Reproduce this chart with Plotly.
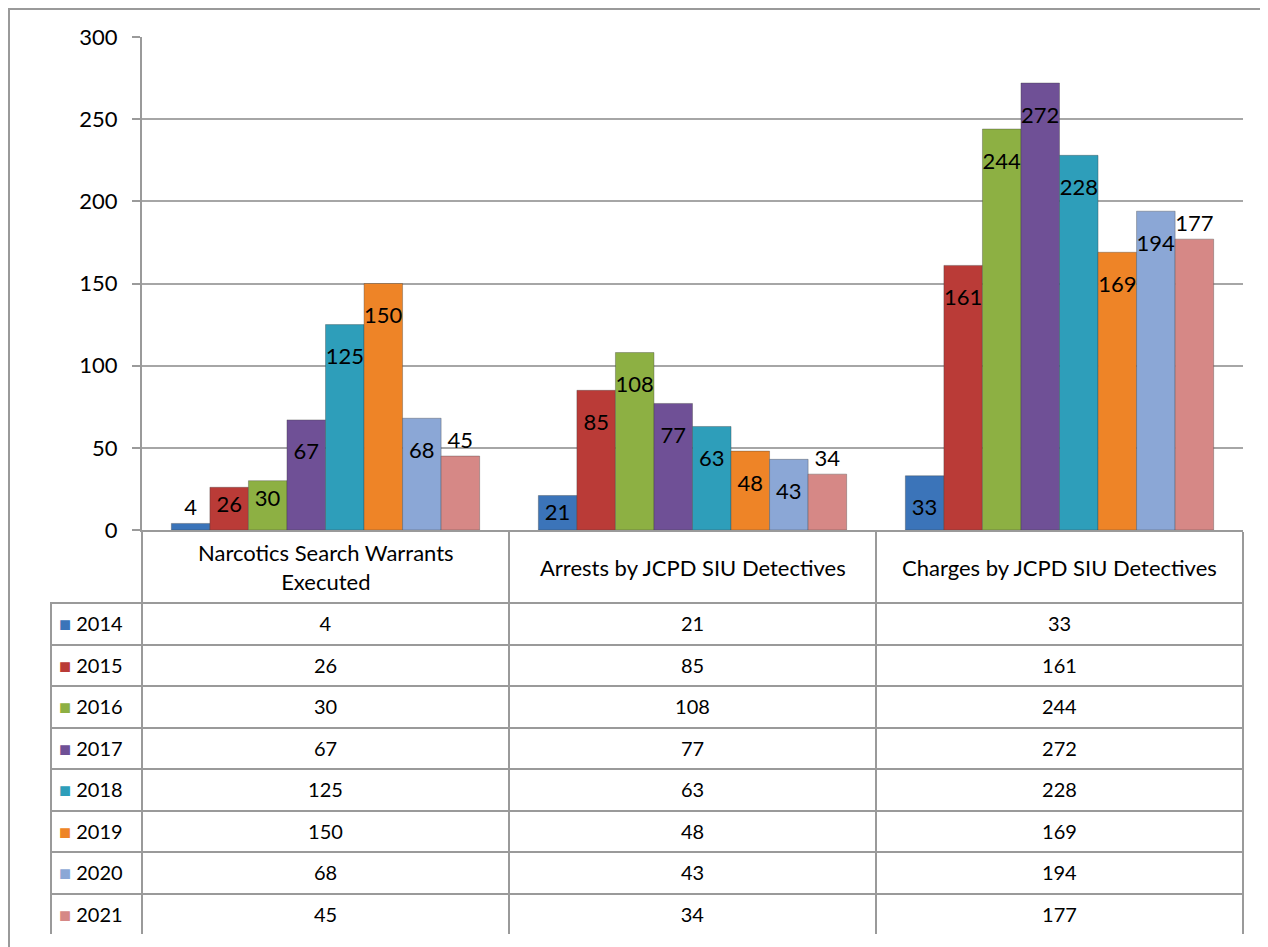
import plotly.graph_objects as go

categories = ["Narcotics Search Warrants Executed",
              "Arrests by JCPD SIU Detectives",
              "Charges by JCPD SIU Detectives"]
category_labels = ["Narcotics Search Warrants<br>Executed",
                   "Arrests by JCPD SIU Detectives",
                   "Charges by JCPD SIU Detectives"]
years = ["2014", "2015", "2016", "2017", "2018", "2019", "2020", "2021"]
v2014 = [4, 21, 33]
v2015 = [26, 85, 161]
v2016 = [30, 108, 244]
v2017 = [67, 77, 272]
v2018 = [125, 63, 228]
v2019 = [150, 48, 169]
v2020 = [68, 43, 194]
v2021 = [45, 34, 177]
series = [v2014, v2015, v2016, v2017, v2018, v2019, v2020, v2021]
colors = ["#3B74B9", "#BA3B37", "#8DB043", "#6F5096", "#2E9EBA",
          "#EE8427", "#8BA7D6", "#D68886"]
outside_series = {"2021"}

# page offset (browser body margin) compensation
OFF = 8
W, H = 1268 - OFF, 947 - OFF
def px_x(p): return (p - OFF) / W
def px_y(p): return 1 - (p - OFF) / H

FONT = "Lato"
FS = 22
TFS = 20
GRAY = "#9A9A9A"
# small spacer line pushes "inside end" labels a little below the bar top (Excel style)
SPACER = "<span style='font-size:8px'>\u00a0</span><br>"

fig = go.Figure()
for yr, vals, col in zip(years, series, colors):
    pos, txt = [], []
    for v in vals:
        if yr in outside_series or v < 10:
            pos.append("outside"); txt.append(str(v))
        elif v > 31:
            pos.append("inside"); txt.append(SPACER + str(v))
        else:
            pos.append("inside"); txt.append(str(v))
    fig.add_trace(go.Bar(
        name=yr, x=categories, y=vals,
        marker=dict(color=col, line=dict(color="rgba(60,60,60,0.35)", width=1)),
        text=txt, textposition=pos, insidetextanchor="end",
        textangle=0, hoverinfo="x+y+name",
        textfont=dict(family=FONT, size=FS, color="black"),
        insidetextfont=dict(family=FONT, size=FS, color="black"),
        outsidetextfont=dict(family=FONT, size=FS, color="black"),
        constraintext="none", cliponaxis=False, showlegend=False,
    ))

# data table below the chart
legend_col = [f"<span style='color:{c}'>■</span> {y}<br>" for c, y in zip(colors, years)]
cols = [legend_col,
        [f"{s[0]}<br>" for s in series],
        [f"{s[1]}<br>" for s in series],
        [f"{s[2]}<br>" for s in series]]
ROWH = (935 - 603) / 8
fig.add_trace(go.Table(
    domain=dict(x=[px_x(51), px_x(1243)], y=[px_y(935), px_y(603)]),
    columnwidth=[91, 367, 367, 367],
    header=dict(values=[c[0] for c in cols], height=ROWH, align=["left", "center"],
                fill_color="white", line=dict(color=GRAY, width=2),
                font=dict(family=FONT, size=TFS, color="black")),
    cells=dict(values=[c[1:] for c in cols], height=ROWH, align=["left", "center"],
               fill_color="white", line=dict(color=GRAY, width=2),
               font=dict(family=FONT, size=TFS, color="black")),
))

annotations = [dict(x=cat, xref="x", y=px_y(567), yref="paper", text=lab,
                    showarrow=False, yanchor="middle", xanchor="center",
                    font=dict(family=FONT, size=FS, color="black"))
               for cat, lab in zip(categories, category_labels)]

fig.update_layout(
    width=W, height=H, margin=dict(l=0, r=0, t=0, b=0, autoexpand=False),
    paper_bgcolor="white", plot_bgcolor="white",
    barmode="group", bargap=0.16, bargroupgap=0,
    font=dict(family=FONT, size=FS, color="black"),
    xaxis=dict(domain=[px_x(142), px_x(1243)], tickson="boundaries", ticks="outside",
               ticklen=72, tickcolor=GRAY, tickwidth=2, showgrid=False,
               showticklabels=False, automargin=False,
               showline=True, linecolor=GRAY, linewidth=2, anchor="y"),
    yaxis=dict(domain=[px_y(530), px_y(37)], range=[0, 300], tickvals=[0, 50, 100, 150, 200, 250, 300],
               ticks="outside", ticklen=8, tickcolor=GRAY, tickwidth=2, automargin=False,
               ticklabelstandoff=10,
               showline=True, linecolor=GRAY, linewidth=2,
               showgrid=True, gridcolor="#A6A6A6", gridwidth=2, zeroline=False,
               tickfont=dict(family=FONT, size=FS, color="black"), anchor="x"),
    annotations=annotations,
    shapes=[dict(type="rect", xref="paper", yref="paper",
                 x0=px_x(OFF + 1), x1=1.02, y0=-0.02, y1=px_y(OFF + 1),
                 line=dict(color=GRAY, width=2), fillcolor="rgba(0,0,0,0)", layer="below")],
)
fig.write_html("out.html")
